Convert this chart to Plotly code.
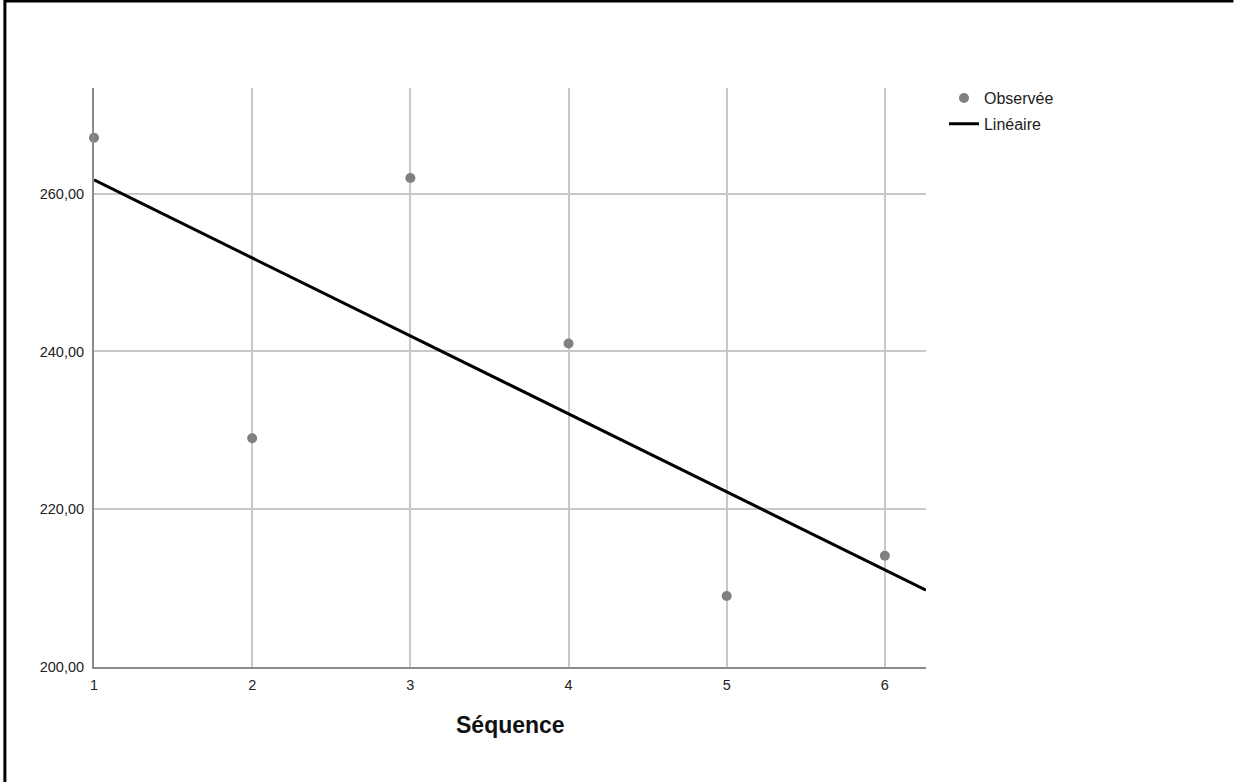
import numpy as np
import plotly.graph_objects as go

# Data
sequence = [1, 2, 3, 4, 5, 6]
observed = [267.1, 229.0, 262.0, 241.0, 209.0, 214.1]
x_ticks = [1, 2, 3, 4, 5, 6]
y_ticks = [200, 220, 240, 260]
y_tick_labels = ["200,00", "220,00", "240,00", "260,00"]
series_names = ["Observée", "Linéaire"]
x_title = "Séquence"

x_range = [1, 6.26]
y_range = [200, 273.4]

# Linear fit from observed data
slope, intercept = np.polyfit(sequence, observed, 1)
fit_x = [x_range[0], x_range[1]]
fit_y = [intercept + slope * v for v in fit_x]

fig = go.Figure()
fig.add_trace(go.Scatter(
    x=sequence, y=observed, mode="markers", name=series_names[0],
    legendgroup="a",
    marker=dict(color="#808080", size=10, line=dict(width=0)),
    cliponaxis=False,
))
fig.add_trace(go.Scatter(
    x=fit_x, y=fit_y, mode="lines", name=series_names[1],
    legendgroup="b",
    line=dict(color="#000000", width=3),
))

font_family = "Liberation Sans, Arial, sans-serif"

fig.update_layout(
    width=1239, height=782,
    margin=dict(l=94, r=313, t=88, b=115),
    paper_bgcolor="white", plot_bgcolor="white",
    font=dict(family=font_family, size=14, color="#222222"),
    showlegend=True,
    legend=dict(
        x=1.0216, xanchor="left", y=1.012, yanchor="top",
        font=dict(size=16, color="#222222"),
        bgcolor="rgba(0,0,0,0)", borderwidth=0,
        tracegroupgap=2, itemwidth=30,
    ),
    xaxis=dict(
        range=x_range, tickmode="array", tickvals=x_ticks,
        ticktext=[str(v) for v in x_ticks],
        showgrid=True, gridcolor="#c8c8c8", gridwidth=1.5,
        showline=True, linecolor="#8a8a8a", linewidth=2,
        zeroline=False, ticks="", ticklabelstandoff=4,
        tickfont=dict(size=14.5, color="#222222"),
    ),
    yaxis=dict(
        range=y_range, tickmode="array", tickvals=y_ticks,
        ticktext=y_tick_labels,
        showgrid=True, gridcolor="#c8c8c8", gridwidth=1.5,
        showline=True, linecolor="#8a8a8a", linewidth=2,
        zeroline=False, ticks="", ticklabelstandoff=5,
        tickfont=dict(size=14.5, color="#222222"),
    ),
    annotations=[
        dict(text="<b>" + x_title + "</b>", xref="paper", yref="paper",
             x=0.5, y=-0.101, xanchor="center", yanchor="middle",
             showarrow=False, font=dict(size=23, color="#111111")),
    ],
    shapes=[
        dict(type="line", xref="paper", yref="paper", x0=-0.108, x1=1.3695,
             y0=1.1503, y1=1.1503, line=dict(color="black", width=3)),
        dict(type="line", xref="paper", yref="paper", x0=-0.1071, x1=-0.1071,
             y0=1.152, y1=-0.2, line=dict(color="black", width=3)),
    ],
)

fig.write_html(
    "out.html",
    config={"displayModeBar": False},
    post_script="document.body.style.margin='0';document.body.style.padding='0';"
                "window.dispatchEvent(new Event('resize'));",
)
